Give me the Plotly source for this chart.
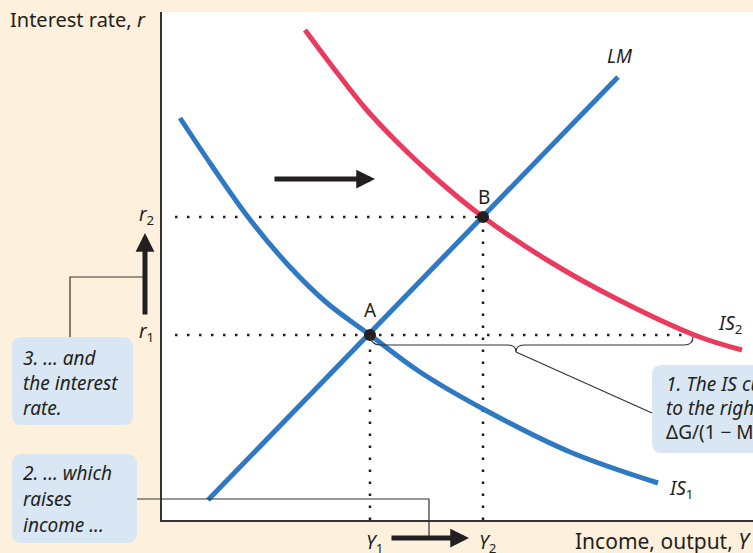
import plotly.graph_objects as go

W, H = 753, 553

# IS-LM data, income (x) vs interest rate (y)
is1_income = [18, 50, 86, 128, 165, 208, 258, 323, 408, 496]
is1_rate = [402, 354, 303, 253, 217, 185, 148, 110, 68, 37]
is2_income = [143, 173, 203, 236, 270, 321, 385, 451, 535, 580]
is2_rate = [490, 450, 412, 377, 345, 303, 260, 223, 184, 170]
lm_income = [46, 456]
lm_rate = [20, 443]
eq_names = ["A", "B"]
eq_income = [208, 321]
eq_rate = [185, 303]
is2_income_at_r1 = 530

BLUE = "#2f78c3"
RED = "#ea3b5f"
INK = "#231f20"
BEIGE = "#fdf0dc"
BOXFILL = "#d9e6f3"
FONT = "Noto Sans"


def pp(x, y):
    """pixel -> paper"""
    return x / W, 1 - y / H


def dp(x, y):
    """data -> pixel"""
    return 162 + x, 520 - y


fig = go.Figure()

dots = dict(color=INK, width=2.5, dash="2.5px,9.5px")
r1, r2 = eq_rate
y1, y2 = eq_income
fig.add_trace(go.Scatter(x=[13, is2_income_at_r1], y=[r1, r1], mode="lines", line=dots))
fig.add_trace(go.Scatter(x=[13, y2], y=[r2, r2], mode="lines", line=dots))
fig.add_trace(go.Scatter(x=[y1, y1], y=[0, r1], mode="lines", line=dots))
fig.add_trace(go.Scatter(x=[y2, y2], y=[0, r2], mode="lines", line=dots))

fig.add_trace(go.Scatter(x=is1_income, y=is1_rate, mode="lines", line_shape="spline",
                         line=dict(color=BLUE, width=5)))
fig.add_trace(go.Scatter(x=is2_income, y=is2_rate, mode="lines", line_shape="spline",
                         line=dict(color=RED, width=5)))
fig.add_trace(go.Scatter(x=lm_income, y=lm_rate, mode="lines",
                         line=dict(color=BLUE, width=5)))
fig.add_trace(go.Scatter(x=eq_income, y=eq_rate, mode="markers",
                         marker=dict(color=INK, size=12)))


def rounded(x0, y0, x1, y1, r=10):
    pts = [("M", [(x0 + r, y0)]), ("L", [(x1 - r, y0)]), ("Q", [(x1, y0), (x1, y0 + r)]),
           ("L", [(x1, y1 - r)]), ("Q", [(x1, y1), (x1 - r, y1)]),
           ("L", [(x0 + r, y1)]), ("Q", [(x0, y1), (x0, y1 - r)]),
           ("L", [(x0, y0 + r)]), ("Q", [(x0, y0), (x0 + r, y0)])]
    s = ""
    for cmd, ps in pts:
        s += cmd + " " + " ".join("%.5f,%.5f" % pp(*p) for p in ps) + " "
    return s + "Z"


def polyline(points):
    return "M " + " L ".join("%.5f,%.5f" % pp(*p) for p in points)


shapes = []
for box in [(12, 337, 133, 425), (12, 454, 137, 543), (652, 365, 770, 453)]:
    shapes.append(dict(type="path", xref="paper", yref="paper", path=rounded(*box),
                       fillcolor=BOXFILL, line=dict(width=0), layer="above"))

lead = dict(color="#333333", width=1.2)
shapes.append(dict(type="path", xref="paper", yref="paper",
                   path=polyline([(70, 337), (70, 277), (145, 277)]), line=lead))
shapes.append(dict(type="path", xref="paper", yref="paper",
                   path=polyline([(137, 499), (429, 499), (429, 538)]), line=lead))

# brace under the shift from A to IS2
ax_, ay_ = dp(y1, r1)
bx_, _ = dp(is2_income_at_r1, r1)
mid = (ax_ + bx_) / 2 - 15
yb = ay_ + 10
brace = ("M %.5f,%.5f Q %.5f,%.5f %.5f,%.5f L %.5f,%.5f Q %.5f,%.5f %.5f,%.5f "
         "Q %.5f,%.5f %.5f,%.5f L %.5f,%.5f Q %.5f,%.5f %.5f,%.5f") % (
    *pp(ax_, ay_), *pp(ax_ + 1, yb), *pp(ax_ + 10, yb), *pp(mid - 8, yb),
    *pp(mid, yb), *pp(mid, yb + 7), *pp(mid, yb), *pp(mid + 8, yb),
    *pp(bx_ - 8, yb), *pp(bx_ + 1, yb), *pp(bx_ + 1, ay_ + 2))
shapes.append(dict(type="path", xref="paper", yref="paper", path=brace, line=lead))
shapes.append(dict(type="path", xref="paper", yref="paper",
                   path=polyline([(mid, yb + 7), (652, 413)]), line=lead))

ann = []


def text(t, x, y, anchor="center", size=19, italic=False):
    px_, py_ = pp(x, y)
    ann.append(dict(text=t, x=px_, y=py_, xref="paper", yref="paper", showarrow=False,
                    xanchor=anchor, yanchor="middle",
                    font=dict(family=FONT, size=size, color=INK,
                              style="italic" if italic else "normal")))


def arrow(x0, y0, x1, y1):
    px_, py_ = pp(x1, y1)
    ann.append(dict(text="", x=px_, y=py_, xref="paper", yref="paper", showarrow=True,
                    ax=x0 - x1, ay=y0 - y1, arrowhead=2, arrowwidth=5, arrowsize=0.75,
                    arrowcolor=INK, standoff=0, startstandoff=0))


text("Interest rate, <i>r</i>", 8, 19, "left", size=20)
text("<i>r</i><sub>2</sub>", 146, 215)
text("<i>r</i><sub>1</sub>", 146, 332)
text("<i>Y</i><sub>1</sub>", 374, 543)
text("<i>Y</i><sub>2</sub>", 487, 543)
text("Income, output, <i>Y</i>", 753, 541, "right", size=21)
text("<i>LM</i>", 620, 56)
text("A", 370, 310)
text("B", 484, 197)
text("<i>IS</i><sub>2</sub>", 730, 324)
text("<i>IS</i><sub>1</sub>", 681, 489)

for i, line in enumerate(["3. ... and", "the interest", "rate."]):
    text(line, 21, 358 + 25 * i, "left", italic=True)
for i, line in enumerate(["2. ... which", "raises", "income ..."]):
    text(line, 21, 473 + 26 * i, "left", italic=True)
for i, line in enumerate(["1. The IS curve shifts", "to the right by"]):
    text(line, 664, 384 + 24 * i, "left", italic=True)
text("\u0394G/(1 \u2212 MPC)", 664, 432, "left")

arrow(145, 316, 145, 233)
arrow(273, 179, 375, 179)
arrow(390, 538, 469, 538)

fig.update_layout(
    width=W, height=H, margin=dict(l=0, r=0, t=0, b=0),
    paper_bgcolor=BEIGE, plot_bgcolor="white", showlegend=False,
    shapes=shapes, annotations=ann,
    xaxis=dict(domain=[162 / W, 1], range=[0, 591], showline=True, linecolor="#333333",
               linewidth=1.5, showgrid=False, zeroline=False, showticklabels=False,
               ticks="", fixedrange=True),
    yaxis=dict(domain=[33 / H, 541 / H], range=[0, 508], showline=True, linecolor="#333333",
               linewidth=1.5, showgrid=False, zeroline=False, showticklabels=False,
               ticks="", fixedrange=True),
)

fig.write_html("out.html", config={"displayModeBar": False},
               post_script="document.body.style.margin='0';")
